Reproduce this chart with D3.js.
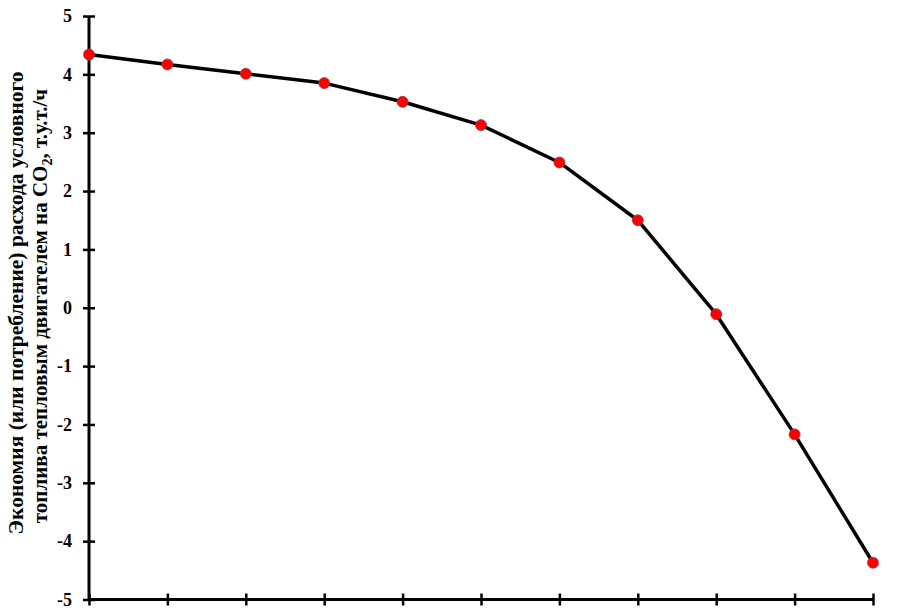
<!DOCTYPE html>
<html>
<head>
<meta charset="utf-8">
<script src="https://cdn.jsdelivr.net/npm/d3@7"></script>
<style>
  body { margin: 0; background: #fff; }
  text { font-family: "Liberation Serif", "Times New Roman", serif; font-weight: bold; }
</style>
</head>
<body>
<svg id="chart" width="919" height="609"></svg>
<script>
// Data
const xValues = [0, 1, 2, 3, 4, 5, 6, 7, 8, 9, 10];
const yValues = [4.34, 4.17, 4.01, 3.85, 3.53, 3.13, 2.49, 1.50, -0.11, -2.17, -4.37];
const yTicks = [5, 4, 3, 2, 1, 0, -1, -2, -3, -4, -5];
const titleLine1 = 'Экономия (или потребление) расхода условного';
const titleLine2 = ['топлива тепловым двигателем на CO', '2', ', т.у.т./ч'];

const svg = d3.select('#chart');

// Plot area
const plotLeft = 89, plotRight = 873, plotTop = 16, plotBottom = 599.5;

const x = d3.scaleLinear()
            .domain([0, 10])
            .range([plotLeft, plotRight]);

const y = d3.scaleLinear()
            .domain([-5, 5])
            .range([plotBottom, plotTop]);

// Y axis
const yAxis = svg.append('g')
                 .attr('transform', 'translate(' + plotLeft + ',0)')
                 .call(d3.axisLeft(y).tickValues(yTicks).tickSize(6).tickPadding(11).tickFormat(d => String(d)));

yAxis.attr('font-family', null);
yAxis.select('.domain').remove();
yAxis.append('line')
     .attr('y1', plotTop).attr('y2', plotBottom)
     .attr('stroke', '#000').attr('stroke-width', 3);
yAxis.selectAll('.tick line')
     .attr('x1', -6).attr('x2', 6)
     .attr('stroke-width', 2.5);
yAxis.selectAll('.tick text')
     .attr('fill', '#000')
     .style('font-size', '18px');

// X axis (ticks only, no labels)
const xAxis = svg.append('g')
                 .attr('transform', 'translate(0,' + plotBottom + ')')
                 .call(d3.axisBottom(x).tickValues(xValues).tickSize(6).tickFormat(''));

xAxis.select('.domain').remove();
xAxis.append('line')
     .attr('x1', plotLeft).attr('x2', plotRight)
     .attr('stroke', '#000').attr('stroke-width', 3);
xAxis.selectAll('.tick line')
     .attr('y1', -6).attr('y2', 6)
     .attr('stroke-width', 2.5);

// Series
const points = xValues.map((d, i) => ({ x: d, y: yValues[i] }));

const line = d3.line()
               .x(d => x(d.x))
               .y(d => y(d.y));

svg.append('path')
   .datum(points)
   .attr('d', line)
   .attr('fill', 'none')
   .attr('stroke', '#000')
   .attr('stroke-width', 3.5)
   .attr('stroke-linejoin', 'round');

svg.selectAll('.dot')
   .data(points)
   .enter()
   .append('circle')
   .attr('class', 'dot')
   .attr('cx', d => x(d.x))
   .attr('cy', d => y(d.y))
   .attr('r', 5.5)
   .attr('fill', '#ff0000')
   .attr('stroke', '#9a3a55')
   .attr('stroke-width', 0.8);

// Y axis title (two lines)
const titleY = 303;

svg.append('text')
   .attr('transform', 'translate(23,' + titleY + ') rotate(-90)')
   .attr('text-anchor', 'middle')
   .style('font-size', '21.5px')
   .text(titleLine1);

const t2 = svg.append('text')
              .attr('transform', 'translate(47,' + (titleY + 3) + ') rotate(-90)')
              .attr('text-anchor', 'middle')
              .style('font-size', '21px');
t2.append('tspan').text(titleLine2[0]);
t2.append('tspan').attr('dy', 5).style('font-size', '14px').text(titleLine2[1]);
t2.append('tspan').attr('dy', -5).text(titleLine2[2]);
</script>
</body>
</html>
